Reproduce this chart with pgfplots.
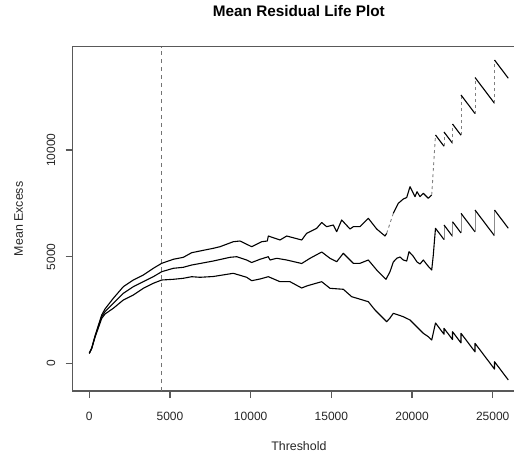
\documentclass[border=0pt]{standalone}
\usepackage{fontspec}
\setmainfont{Liberation Sans}
\usepackage{pgfplots}
\pgfplotsset{compat=1.18}
\begin{document}
\begin{tikzpicture}[x=1pt,y=1pt]
\begin{axis}[
  at={(72.7pt,62pt)}, anchor=south west,
  scale only axis, width=452.3pt, height=344.3pt,
  xmin=-1029, xmax=27000, ymin=-1288, ymax=14839,
  scaled x ticks=false, scaled y ticks=false,
  axis line style={black!65, line width=1.1pt},
  tick pos=left, tick align=outside, major tick length=7pt,
  tick style={black!65, line width=1.1pt},
  xtick={0,5000,10000,15000,20000,25000},
  xticklabels={0,5000,10000,15000,20000,25000},
  ytick={0,5000,10000}, yticklabels={0,5000,10000},
  /pgf/number format/assume math mode=true,
  tick label style={font=\fontsize{12}{14}\selectfont, text=black!85},
  xticklabel style={anchor=center, yshift=-18pt},
  yticklabel style={xshift=-14.7pt, rotate=90, anchor=center},
  title={Mean Residual Life Plot},
  title style={font=\fontsize{15.3}{18}\selectfont\bfseries, at={(axis description cs:0.5,1.0857)}, anchor=center},
  xlabel={Threshold},
  xlabel style={font=\fontsize{12.4}{14}\selectfont, text=black!85, at={(axis description cs:0.5,-0.1592)}, anchor=center},
  ylabel={Mean Excess},
  ylabel style={font=\fontsize{12.4}{14}\selectfont, text=black!85, at={(axis description cs:-0.1194,0.5)}, anchor=center},
  every axis plot/.append style={line join=round},
]
% threshold marker
\addplot[black!55, line width=0.9pt, dash pattern=on 4pt off 4pt] coordinates {(4500,-1288) (4500,14839)};
% upper confidence line
\addplot[black, line width=1.1pt] coordinates {(0,478) (149,726) (353,1288) (558,1780) (768,2272) (973,2553) (1487,3054) (2107,3597) (2727,3911) (3346,4145) (3966,4459) (4487,4693) (5205,4881) (5825,4974) (6346,5190) (6860,5270) (7684,5396) (8100,5471) (8924,5705) (9339,5738) (10064,5471) (10684,5705) (11031,5738) (11093,5972) (11818,5785) (12233,5972) (13162,5785) (13472,6099) (14092,6333) (14402,6604) (14712,6408) (15121,6487) (15331,6174) (15641,6722) (16156,6300) (16360,6408) (16775,6408) (17290,6801) (17810,6300) (18324,5972) (18430,6099)};
\addplot[black!50, line width=0.9pt, dash pattern=on 3pt off 3pt] coordinates {(18430,6099) (18839,7035)};
\addplot[black, line width=1.1pt] coordinates {(18839,7035) (19149,7504) (19459,7705) (19669,7775) (19874,8282) (20184,7813) (20308,8047) (20494,7813) (20698,7972) (21008,7738) (21219,7893)};
\addplot[black!50, line width=0.9pt, dash pattern=on 3pt off 3pt] coordinates {(21219,7893) (21454,10703)};
\addplot[black, line width=1.1pt] coordinates {(21454,10703) (21981,10176)};
\addplot[black!50, line width=0.9pt, dash pattern=on 3pt off 3pt] coordinates {(21981,10176) (21981,10844)};
\addplot[black, line width=1.1pt] coordinates {(21981,10844) (22508,10317)};
\addplot[black!50, line width=0.9pt, dash pattern=on 3pt off 3pt] coordinates {(22508,10317) (22508,11218)};
\addplot[black, line width=1.1pt] coordinates {(22508,11218) (23034,10692)};
\addplot[black!50, line width=0.9pt, dash pattern=on 3pt off 3pt] coordinates {(23034,10692) (23034,12577)};
\addplot[black, line width=1.1pt] coordinates {(23034,12577) (23902,11709)};
\addplot[black!50, line width=0.9pt, dash pattern=on 3pt off 3pt] coordinates {(23902,11709) (23902,13396)};
\addplot[black, line width=1.1pt] coordinates {(23902,13396) (25110,12188)};
\addplot[black!50, line width=0.9pt, dash pattern=on 3pt off 3pt] coordinates {(25110,12188) (25110,14216)};
\addplot[black, line width=1.1pt] coordinates {(25110,14216) (25965,13361)};
% mean excess
\addplot[black, line width=1.1pt] coordinates {(0,478) (149,712) (353,1255) (558,1724) (768,2192) (973,2426) (1487,2820) (2107,3288) (2727,3597) (3346,3832) (3966,4066) (4487,4300) (5205,4459) (5825,4506) (6346,4614) (6860,4684) (7684,4801) (8719,4974) (9134,5003) (9754,4848) (10064,4731) (10578,4881) (11093,5003) (11198,4848) (11613,4928) (12233,4848) (13162,4684) (13677,4928) (14402,5223) (14916,4928) (15331,4768) (15740,5162) (16360,4693) (16775,4693) (17290,4848) (17810,4380) (18386,3944) (18634,4300) (18839,4754) (19050,4928) (19254,4988) (19459,4848) (19669,4801) (19812,5237) (20060,5035) (20308,4754) (20494,4661) (20698,4848) (20989,4567) (21219,4380) (21318,5082) (21392,5785) (21454,6333) (21981,5806)};
\addplot[black!45, line width=1pt] coordinates {(21981,5806) (21981,6487)};
\addplot[black, line width=1.1pt] coordinates {(21981,6487) (22508,5960)};
\addplot[black!45, line width=1pt] coordinates {(22508,5960) (22508,6642)};
\addplot[black, line width=1.1pt] coordinates {(22508,6642) (23034,6116)};
\addplot[black!45, line width=1pt] coordinates {(23034,6116) (23034,7035)};
\addplot[black, line width=1.1pt] coordinates {(23034,7035) (23902,6167)};
\addplot[black!45, line width=1pt] coordinates {(23902,6167) (23902,7190)};
\addplot[black, line width=1.1pt] coordinates {(23902,7190) (25110,5982)};
\addplot[black!45, line width=1pt] coordinates {(25110,5982) (25110,7190)};
\addplot[black, line width=1.1pt] coordinates {(25110,7190) (25965,6335)};
% lower confidence line
\addplot[black, line width=1.1pt] coordinates {(0,478) (149,703) (353,1227) (558,1663) (768,2108) (973,2319) (1487,2586) (2107,2974) (2727,3209) (3346,3522) (3966,3757) (4487,3911) (5205,3944) (5825,3991) (6346,4066) (6860,4038) (7684,4075) (8924,4225) (9754,4038) (10064,3878) (10578,3958) (11093,4066) (11818,3832) (12437,3832) (13162,3536) (13472,3630) (13677,3677) (14402,3832) (14916,3522) (15740,3476) (16261,3129) (17290,2895) (17705,2506) (18430,1958) (18634,2131) (18839,2351) (19149,2272) (19459,2192) (19874,2038) (20289,1724) (20698,1415) (21008,1255) (21219,1101) (21454,1897) (21981,1370) (21981,1649) (22508,1122) (22508,1490) (23034,964) (23034,1415) (23902,547) (23902,946) (25110,-262) (25110,84) (25965,-771)};
\end{axis}
\pgfresetboundingbox
\path[use as bounding box] (0,0) rectangle (514,453);
\end{tikzpicture}
\end{document}
